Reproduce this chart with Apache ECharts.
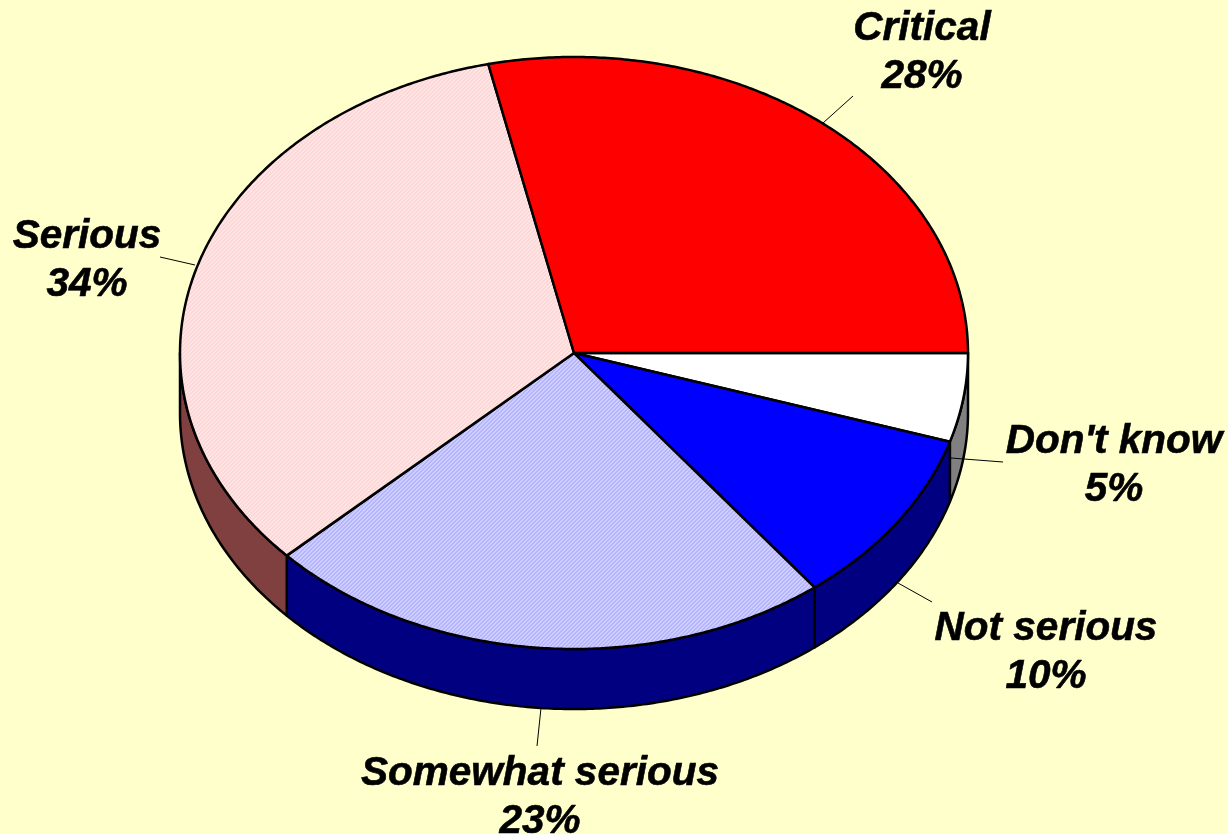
<!DOCTYPE html>
<html><head><meta charset="utf-8">
<style>html,body{margin:0;padding:0;background:#FFFFCC}#c{width:1228px;height:834px}</style>
<script src="https://cdn.jsdelivr.net/npm/echarts@6/dist/echarts.min.js"></script>
</head><body><div id="c"></div>
<script>
// Data, clockwise from 3 o'clock
var categories = ["Don't know", "Not serious", "Somewhat serious", "Serious", "Critical"];
var values = [4.85, 9.7, 23.45, 33.51, 28.49];

// Styling and layout
var topColors = ['#FFFFFF', '#0000FF', 'patternBlue', 'patternPink', '#FF0000'];
var sideColors = ['#808080', '#000080', '#000080', '#804040', '#800000'];
var labelCenters = [[1114, 466], [1046, 653], [540, 798], [87, 261], [922, 53]];
var leaders = [[[951, 458], [1003, 462]], [[898, 583], [932, 602]], [[541, 708], [537, 746]], [[195, 265], [160, 257]], [[823, 123], [853, 96]]];
var cx = 574, cy = 353, rx = 394, ry = 296, depth = 60;

function makePattern(a, b) {
  var s = 4, cv = document.createElement('canvas');
  cv.width = cv.height = s;
  var g = cv.getContext('2d');
  g.fillStyle = a; g.fillRect(0, 0, s, s);
  g.fillStyle = b;
  for (var i = 0; i < s; i++) { g.fillRect(i, s - 1 - i, 1, 1); g.fillRect((i + 1) % s, s - 1 - i, 1, 1); }
  return { image: cv, repeat: 'repeat' };
}
var fills = {
  patternBlue: makePattern('#CFCFFF', '#B4B4FF'),
  patternPink: makePattern('#FFE6E6', '#FFD6D6')
};
function fillOf(c) { return fills[c] || c; }

var total = values.reduce(function (s, v) { return s + v; }, 0);
var startAngles = [], acc = 0;
values.forEach(function (v) { startAngles.push(acc / total * 360); acc += v; });

function pt(deg, dy) {
  var t = deg * Math.PI / 180;
  return [cx + rx * Math.cos(t), cy + ry * Math.sin(t) + (dy || 0)];
}
function arc(a, b, dy) {
  var pts = [], n = Math.max(2, Math.ceil(Math.abs(b - a) * 2));
  for (var i = 0; i <= n; i++) pts.push(pt(a + (b - a) * i / n, dy));
  return pts;
}
var outline = { stroke: '#000', lineWidth: 2.5, lineJoin: 'round' };

function renderSide(params, api) {
  var i = params.dataIndex;
  var a = startAngles[i], b = a + api.value(0) / total * 360;
  var s = Math.max(a, 0), e = Math.min(b, 180);
  if (e <= s) return { type: 'group', children: [] };
  var pts = arc(s, e, 0).concat(arc(e, s, depth));
  return { type: 'polygon', shape: { points: pts }, style: Object.assign({ fill: sideColors[i] }, outline) };
}
function renderTop(params, api) {
  var i = params.dataIndex;
  var a = startAngles[i], b = a + api.value(0) / total * 360;
  var pts = [[cx, cy]].concat(arc(a, b, 0));
  return { type: 'polygon', shape: { points: pts }, style: Object.assign({ fill: fillOf(topColors[i]) }, outline) };
}
var labelFont = { fontFamily: '"Liberation Sans", Arial, sans-serif', fontSize: 40.5, fontWeight: 'bold', fontStyle: 'italic', stroke: '#000', lineWidth: 0.6 };
function renderLabel(params, api) {
  var i = params.dataIndex;
  var c = labelCenters[i], l = leaders[i];
  return { type: 'group', children: [
    { type: 'line', shape: { x1: l[0][0], y1: l[0][1], x2: l[1][0], y2: l[1][1] }, style: { stroke: '#000', lineWidth: 1 } },
    { type: 'text', style: Object.assign({ x: c[0], y: c[1] - 24, text: categories[i], fill: '#000', align: 'center', verticalAlign: 'middle' }, labelFont) },
    { type: 'text', style: Object.assign({ x: c[0], y: c[1] + 24, text: Math.round(api.value(0)) + '%', fill: '#000', align: 'center', verticalAlign: 'middle' }, labelFont) }
  ] };
}
var chart = echarts.init(document.getElementById('c'), null, { renderer: 'canvas' });
var dataset = values.map(function (v, i) { return { name: categories[i], value: v }; });
function layer(fn, z) {
  return { type: 'custom', coordinateSystem: 'none', renderItem: fn, data: dataset, z: z, silent: true, animation: false, clip: false };
}
chart.setOption({
  backgroundColor: '#FFFFCC',
  animation: false,
  tooltip: { show: false },
  series: [layer(renderSide, 1), layer(renderTop, 2), layer(renderLabel, 3)]
});
</script></body></html>
